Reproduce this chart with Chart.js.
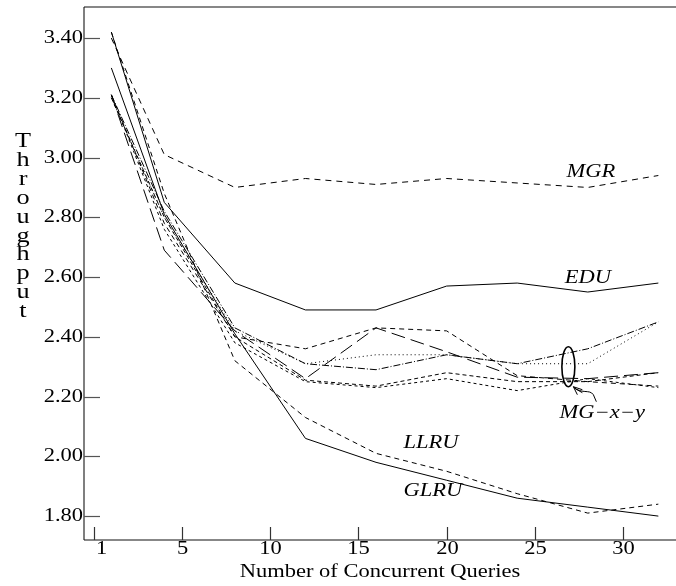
<!DOCTYPE html>
<html>
<head>
<meta charset="utf-8">
<title>Throughput vs concurrent queries</title>
<style>
  html, body { margin: 0; padding: 0; background: #fff; }
  canvas { display: block; }
</style>
</head>
<body>
<canvas id="chart" width="676" height="586"></canvas>
<script src="https://cdn.jsdelivr.net/npm/chart.js@4/dist/chart.umd.min.js"></script>
<script>
// x positions (number of concurrent queries)
const queries = [1, 4, 8, 12, 16, 20, 24, 28, 32];

// named policies
const mgr  = [3.40, 3.01, 2.90, 2.93, 2.91, 2.93, 2.915, 2.90, 2.94];
const edu  = [3.42, 2.85, 2.58, 2.49, 2.49, 2.57, 2.58, 2.55, 2.58];
const glru = [3.30, 2.81, 2.41, 2.06, 1.98, 1.92, 1.86, 1.83, 1.80];
const llru = [3.42, 2.88, 2.32, 2.13, 2.01, 1.95, 1.875, 1.81, 1.84];

// MG-x-y variants
const mgDashDot  = [3.21, 2.82, 2.43, 2.31, 2.29, 2.34, 2.31, 2.36, 2.45];
const mgDotted   = [3.20, 2.80, 2.42, 2.31, 2.34, 2.34, 2.31, 2.31, 2.45];
const mgLongDash = [3.21, 2.69, 2.42, 2.26, 2.43, 2.35, 2.265, 2.26, 2.28];
const mgShort    = [3.21, 2.78, 2.40, 2.36, 2.43, 2.42, 2.27, 2.25, 2.235];
const mgDashA    = [3.20, 2.80, 2.40, 2.255, 2.235, 2.28, 2.25, 2.25, 2.28];
const mgDashB    = [3.21, 2.76, 2.38, 2.25, 2.23, 2.26, 2.22, 2.26, 2.23];

const yTickStep = 0.2;
const xTickStep = 5;

const serif = '"Liberation Serif", "Times New Roman", serif';
const STRETCH = 1.25;

function pts(ys) {
  return ys.map((y, i) => ({ x: queries[i], y }));
}

function line(label, ys, dash) {
  return {
    label,
    data: pts(ys),
    borderColor: '#000',
    borderWidth: 1,
    borderDash: dash,
    pointRadius: 0,
    fill: false,
    tension: 0
  };
}

function wideText(ctx, text, x, y, align, size, italic) {
  ctx.save();
  ctx.font = (italic ? 'italic ' : '') + size + 'px ' + serif;
  ctx.fillStyle = '#000';
  ctx.textBaseline = 'alphabetic';
  ctx.translate(x, y);
  ctx.scale(STRETCH, 1);
  ctx.textAlign = align;
  ctx.fillText(text, 0, 0);
  ctx.restore();
}

// curve labels, anchored in data units
const curveLabels = [
  { text: 'MGR', x: 26.8, y: 2.935 },
  { text: 'EDU', x: 26.7, y: 2.58 },
  { text: 'LLRU', x: 17.55, y: 2.028 },
  { text: 'GLRU', x: 17.55, y: 1.867 },
  { text: 'MG\u2212x\u2212y', x: 26.4, y: 2.128 }
];
const groupMark = { x: 26.9, y: 2.30 };

const axesPlugin = {
  id: 'paperAxes',
  afterDraw(chart) {
    const { ctx, chartArea: a, scales } = chart;
    const xs = scales.x, ys = scales.y;

    ctx.save();
    // frame: grey left axis, black top and bottom
    ctx.lineWidth = 1.5;
    ctx.strokeStyle = '#555';
    ctx.beginPath();
    ctx.moveTo(a.left, a.top);
    ctx.lineTo(a.left, a.bottom);
    ctx.stroke();
    ctx.strokeStyle = '#111';
    ctx.lineWidth = 1.2;
    ctx.beginPath();
    ctx.moveTo(a.left, a.top);
    ctx.lineTo(a.right, a.top);
    ctx.moveTo(a.left, a.bottom);
    ctx.lineTo(a.right, a.bottom);
    ctx.stroke();

    // y ticks, pointing inward
    ctx.strokeStyle = '#555';
    ctx.lineWidth = 1.2;
    ys.ticks.forEach(t => {
      const py = Math.round(ys.getPixelForValue(t.value)) + 0.5;
      ctx.beginPath();
      ctx.moveTo(a.left, py);
      ctx.lineTo(a.left + 16, py);
      ctx.stroke();
      wideText(ctx, t.value.toFixed(2), a.left - 1, py + 4, 'right', 18, false);
    });

    // x ticks, pointing upward
    ctx.strokeStyle = '#333';
    xs.ticks.forEach(t => {
      const px = Math.round(xs.getPixelForValue(t.value)) + 0.5;
      ctx.beginPath();
      ctx.moveTo(px, a.bottom);
      ctx.lineTo(px, a.bottom - 13);
      ctx.stroke();
      const lbl = t.value === 0 ? '1' : String(t.value);
      wideText(ctx, lbl, px + (t.value === 0 ? 7 : 0), a.bottom + 14, 'center', 18, false);
    });

    // axis titles
    wideText(ctx, 'Number of Concurrent Queries', 380, 577, 'center', 18, false);
    const yt = 'Throughput';
    for (let i = 0; i < yt.length; i++) {
      wideText(ctx, yt[i], 23, 147 + i * 18.9, 'center', 21, false);
    }

    // curve labels
    curveLabels.forEach(l => {
      wideText(ctx, l.text, xs.getPixelForValue(l.x), ys.getPixelForValue(l.y), 'left', 18, true);
    });

    // ellipse around the MG-x-y group with a pointer
    const cx = xs.getPixelForValue(groupMark.x);
    const cy = ys.getPixelForValue(groupMark.y);
    ctx.strokeStyle = '#000';
    ctx.lineWidth = 1.6;
    ctx.beginPath();
    ctx.ellipse(cx, cy, 6.5, 20, 0, 0, Math.PI * 2);
    ctx.stroke();

    ctx.lineWidth = 1;
    const hx = cx + 5, hy = cy + 20;
    ctx.beginPath();
    ctx.moveTo(hx, hy);
    ctx.bezierCurveTo(hx + 8, hy + 8, hx + 16, hy + 2, hx + 20, hy + 8);
    ctx.lineTo(hx + 23, hy + 15);
    ctx.stroke();
    ctx.beginPath();
    ctx.moveTo(hx, hy);
    ctx.lineTo(hx + 9, hy + 3);
    ctx.moveTo(hx, hy);
    ctx.lineTo(hx + 4, hy + 8);
    ctx.moveTo(hx + 1, hy + 1.5);
    ctx.lineTo(hx + 9, hy + 6);
    ctx.stroke();
    ctx.restore();
  }
};

new Chart(document.getElementById('chart'), {
  type: 'line',
  data: {
    datasets: [
      line('MGR', mgr, [6, 5]),
      line('EDU', edu, []),
      line('GLRU', glru, []),
      line('LLRU', llru, [5, 4]),
      line('MG dash-dot', mgDashDot, [7, 2, 1, 2]),
      line('MG dotted', mgDotted, [1, 3]),
      line('MG long dash', mgLongDash, [14, 6]),
      line('MG short dash', mgShort, [5, 4]),
      line('MG dash A', mgDashA, [4, 3]),
      line('MG dash B', mgDashB, [3, 3])
    ]
  },
  options: {
    responsive: false,
    devicePixelRatio: 1,
    animation: false,
    layout: { padding: { left: 84, top: 7, right: 0, bottom: 46 } },
    plugins: { legend: { display: false }, tooltip: { enabled: false } },
    scales: {
      x: {
        type: 'linear',
        min: -0.55,
        max: 33,
        ticks: { display: false, stepSize: xTickStep, includeBounds: false },
        grid: { display: false, drawTicks: false },
        border: { display: false }
      },
      y: {
        type: 'linear',
        min: 1.72,
        max: 3.504,
        ticks: { display: false, stepSize: yTickStep, includeBounds: false },
        grid: { display: false, drawTicks: false },
        border: { display: false }
      }
    }
  },
  plugins: [axesPlugin]
});
</script>
</body>
</html>
